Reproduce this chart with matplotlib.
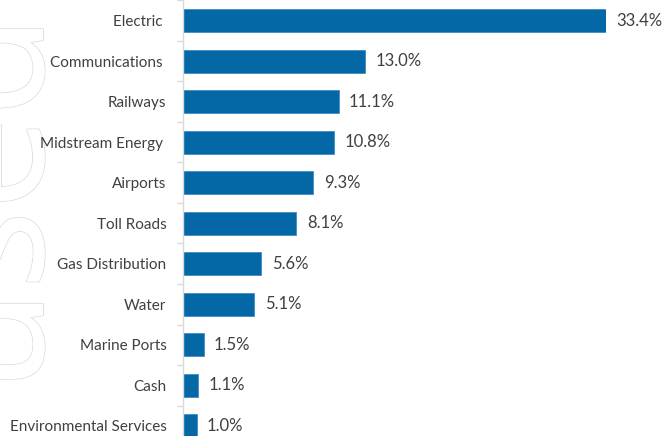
import matplotlib
matplotlib.use("Agg")
import matplotlib.pyplot as plt
import matplotlib.patheffects as pe

categories = ["Electric ", "Communications ", "Railways", "Midstream Energy ", "Airports",
              "Toll Roads", "Gas Distribution", "Water", "Marine Ports", "Cash",
              "Environmental Services"]
values = [33.4, 13.0, 11.1, 10.8, 9.3, 8.1, 5.6, 5.1, 1.5, 1.1, 1.0]
value_labels = ["33.4%", "13.0%", "11.1%", "10.8%", "9.3%", "8.1%", "5.6%", "5.1%",
                "1.5%", "1.1%", "1.0%"]
x_max = 30.1

W, H = 667, 436
fig = plt.figure(figsize=(W / 100, H / 100), dpi=100)
fig.patch.set_facecolor("white")

# faint watermark (drawn beneath everything)
fig.text(43 / W, 1 - 392 / H, "used", rotation=90, rotation_mode="anchor",
         ha="left", va="baseline", fontsize=120, family="Open Sans",
         color="white",
         path_effects=[pe.withStroke(linewidth=1.3, foreground="#dcdcdc"),
                       pe.Normal()], zorder=-5)

ax = fig.add_axes([182.5 / W, 1 - 446 / H, 423.5 / W, 445.5 / H])
ax.set_facecolor("none")
n = len(categories)
ypos = list(range(n))
ax.barh(ypos, values, height=0.56, color="#0568a6", edgecolor="#3f8cc6",
        linewidth=0.6, zorder=2)
ax.set_xlim(0, x_max)
ax.set_ylim(n - 0.5, -0.5)

for y, v, lab in zip(ypos, values, value_labels):
    xv = min(v, x_max)
    ax.annotate(lab, xy=(xv, y), xytext=(7.5, 0), textcoords="offset points",
                ha="left", va="center", fontsize=12, color="#404040",
                family="Lato", annotation_clip=False)

for s in ["top", "right", "bottom"]:
    ax.spines[s].set_visible(False)
ax.spines["left"].set_color("#d9d9d9")
ax.spines["left"].set_linewidth(1.0)
ax.set_xticks([])
ax.set_yticks([i - 0.5 for i in range(n + 1)])
ax.set_yticklabels([])
ax.tick_params(axis="y", which="major", length=4.3, width=1.0, color="#d9d9d9")
ax.set_yticks(ypos, minor=True)
ax.set_yticklabels(categories, minor=True, fontsize=11, color="#404040", family="Lato")
ax.tick_params(axis="y", which="minor", length=0, pad=11.5)

fig.savefig("out.png", dpi=100)
